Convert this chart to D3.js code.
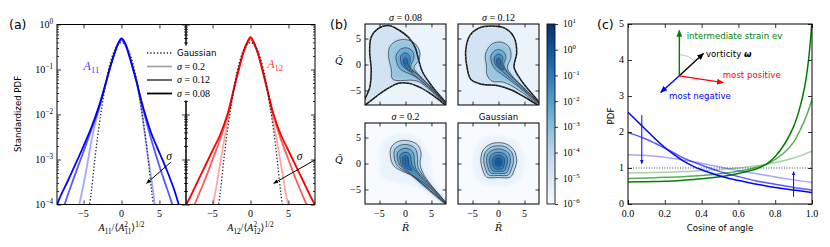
<!DOCTYPE html>
<html lang="en">
<head>
<meta charset="UTF-8">
<title>Velocity gradient statistics</title>
<script src="https://d3js.org/d3.v7.min.js"></script>
<style>
  body { margin: 0; background: #fff; }
  svg { display: block; }
</style>
</head>
<body>
<script>
// ---------- panel (a): standardized PDFs, pairs of [x, log10 PDF] ----------
const gaussianA = [[-4.5,-4.35],[-4,-3.75],[-3.5,-2.98],[-3,-2.3],[-2.5,-1.74],[-2,-1.24],[-1.5,-0.86],[-1,-0.61],[-0.5,-0.45],[0,-0.4],[0.5,-0.45],[1,-0.61],[1.5,-0.86],[2,-1.24],[2.5,-1.74],[3,-2.3],[3.5,-2.98],[4,-3.75],[4.5,-4.35]];
const a11Sigma08 = [[-8.7,-4.1],[-8,-3.8],[-7,-3.45],[-6,-3.08],[-5,-2.7],[-4,-2.3],[-3,-1.83],[-2.5,-1.55],[-2,-1.25],[-1.5,-0.95],[-1,-0.68],[-0.5,-0.44],[0,-0.31],[0.5,-0.42],[1,-0.68],[1.5,-0.97],[2,-1.28],[2.5,-1.62],[3,-1.93],[3.5,-2.2],[4,-2.45],[5,-2.85],[6,-3.25],[7,-3.7],[7.7,-4.1]];
const a11Sigma12 = [[-7.7,-4.1],[-7,-3.75],[-6,-3.28],[-5,-2.82],[-4,-2.35],[-3,-1.88],[-2.5,-1.58],[-2,-1.27],[-1.5,-0.96],[-1,-0.68],[-0.5,-0.45],[0,-0.33],[0.5,-0.44],[1,-0.69],[1.5,-0.98],[2,-1.29],[2.5,-1.64],[3,-1.98],[4,-2.6],[5,-3.15],[6,-3.65],[6.9,-4.1]];
const a11Sigma20 = [[-5.7,-4.1],[-5,-3.55],[-4.5,-3.1],[-4,-2.62],[-3.5,-2.22],[-3,-1.9],[-2.5,-1.58],[-2,-1.27],[-1.5,-0.94],[-1,-0.66],[-0.5,-0.46],[0,-0.36],[0.5,-0.46],[1,-0.66],[1.5,-0.95],[2,-1.27],[2.5,-1.75],[3,-2.35],[3.5,-2.95],[4,-3.5],[4.5,-4.15]];
const a12Sigma08 = [[-8.8,-4.1],[-8,-3.85],[-7,-3.5],[-6,-3.15],[-5,-2.8],[-4,-2.45],[-3,-1.98],[-2.5,-1.65],[-2,-1.3],[-1.5,-0.96],[-1,-0.65],[-0.5,-0.42],[0,-0.28],[0.5,-0.42],[1,-0.65],[1.5,-0.96],[2,-1.3],[2.5,-1.65],[3,-1.98],[4,-2.45],[5,-2.8],[6,-3.15],[7,-3.5],[8,-3.85],[8.8,-4.1]];
const a12Sigma12 = [[-7.7,-4.12],[-7,-3.85],[-6,-3.45],[-5,-3.0],[-4,-2.55],[-3,-2.0],[-2.5,-1.66],[-2,-1.3],[-1.5,-0.97],[-1,-0.66],[-0.5,-0.44],[0,-0.3],[0.5,-0.44],[1,-0.66],[1.5,-0.97],[2,-1.3],[2.5,-1.66],[3,-2.0],[4,-2.55],[5,-3.0],[6,-3.45],[7,-3.85],[7.7,-4.12]];
const a12Sigma20 = [[-5.1,-4.15],[-4.5,-3.6],[-4,-3.1],[-3.5,-2.6],[-3,-2.15],[-2.5,-1.7],[-2,-1.28],[-1.5,-0.94],[-1,-0.64],[-0.5,-0.45],[0,-0.33],[0.5,-0.45],[1,-0.64],[1.5,-0.94],[2,-1.28],[2.5,-1.7],[3,-2.15],[3.5,-2.6],[4,-3.1],[4.5,-3.6],[5.1,-4.15]];
const aXTicks = [-5, 0, 5];
const aLogMajor = [1e-4, 1e-3, 1e-2, 1e-1, 1];
const aLogExp = ["\u22124", "\u22123", "\u22122", "\u22121", "0"];
const sigmaNames = ["0.2", "0.12", "0.08"];

// ---------- panel (b): joint PDF of Q and R, contour outlines ----------
const qrTicks = [-5, 0, 5];
const contours08 = [
  [[-8.5,-8.3],[-6.9,-4.5],[-6.6,-1.0],[-6.9,2.5],[-6.6,5.3],[-5.3,6.9],[-3.3,7.5],[-1.2,6.6],[0.6,5.2],[1.9,3.2],[2.5,1.0],[3.3,-1.5],[5.2,-4.3],[8.6,-8.4],[5.5,-6.1],[3.0,-4.5],[0.6,-3.6],[-1.4,-3.6],[-4.0,-5.0],[-6.5,-6.8]],
  [[-2.5,-2.8],[-2.7,-1.0],[-3.2,1.2],[-3.1,3.2],[-2.0,4.4],[-0.2,4.8],[1.6,4.2],[2.7,2.6],[2.6,0.9],[1.6,-0.6],[2.7,-2.1],[5.0,-4.5],[8.6,-8.35],[4.8,-5.0],[2.6,-3.3],[0.8,-3.0],[-1.0,-3.1]],
  [[-1.6,0.2],[-1.8,1.7],[-1.0,2.9],[0.2,3.2],[1.3,2.6],[1.6,1.3],[1.1,0.0],[1.0,-0.8],[2.2,-1.8],[4.8,-4.3],[8.6,-8.3],[4.6,-4.55],[2.0,-2.4],[0.1,-1.5],[-1.0,-0.9]],
  [[-0.9,0.6],[-0.9,1.6],[-0.2,2.2],[0.7,1.8],[0.9,0.7],[0.7,-0.3],[1.9,-1.6],[4.7,-4.35],[8.6,-8.3],[4.55,-4.5],[1.6,-1.95],[0.1,-0.8],[-0.6,-0.2]],
  [[-0.4,0.3],[-0.4,0.9],[0.0,1.2],[0.4,0.9],[0.45,0.1],[0.8,-0.6],[1.5,-1.45],[0.8,-1.15],[0.1,-0.6]]
];
const levels08 = [-4.7, -3.3, -2.4, -1.4, -0.2];
const contours12 = [
  [[-6.3,2.8],[-5.5,5.6],[-3.8,7.0],[-1.5,7.4],[1.2,7.0],[3.0,5.2],[3.5,2.2],[3.0,-0.5],[4.4,-3.1],[8.6,-8.4],[5.6,-6.6],[2.5,-4.9],[0.0,-4.1],[-3.2,-3.8],[-5.3,-2.9],[-6.1,-0.3]],
  [[-2.3,-0.3],[-2.5,2.0],[-1.3,3.9],[0.5,4.3],[2.0,3.4],[2.4,1.5],[1.7,-0.6],[2.7,-2.3],[8.6,-8.35],[4.0,-5.0],[1.0,-3.4],[-1.2,-3.2],[-2.2,-2.0]],
  [[-1.3,0.3],[-1.4,1.8],[-0.4,2.8],[0.8,2.6],[1.4,1.5],[1.0,0.0],[1.7,-1.4],[4.6,-4.2],[8.6,-8.3],[4.0,-4.4],[0.7,-1.9],[-0.6,-0.9]],
  [[-0.8,0.5],[-0.7,1.5],[0.1,2.0],[0.8,1.4],[0.7,0.2],[1.4,-1.2],[4.6,-4.3],[8.6,-8.3],[4.3,-4.4],[0.5,-1.1],[-0.4,-0.3]],
  [[-0.35,0.2],[-0.35,0.9],[0.05,1.2],[0.4,0.8],[0.4,0.0],[1.0,-1.0],[0.4,-0.8],[0.0,-0.4]]
];
const levels12 = [-4.7, -3.3, -2.4, -1.4, -0.2];
const contours20 = [
  [[-5.0,0],[-4.5,4.0],[-1,5.8],[3.0,4.5],[4.8,1],[5.2,-2.5],[8.6,-8.6],[2,-4.5],[-2,-3.6],[-4.5,-2.6]],
  [[-2.8,0.8],[-2.8,3.0],[-1.5,4.2],[0.3,4.4],[2.2,3.7],[3.0,2.0],[2.8,0.0],[3.6,-2.3],[8.6,-8.6],[4.4,-4.4],[1.5,-2.4],[-0.8,-1.4],[-2.2,-0.5]],
  [[-2.1,0.8],[-2.1,2.6],[-1.0,3.5],[0.5,3.6],[1.9,2.8],[2.3,1.2],[2.4,-0.6],[3.7,-2.8],[8.6,-8.5],[4.0,-4.5],[1.2,-2.3],[-0.6,-1.2],[-1.6,-0.4]],
  [[-1.5,0.7],[-1.5,2.1],[-0.6,2.8],[0.6,2.8],[1.5,2.0],[1.7,0.6],[2.0,-1.0],[3.9,-3.3],[8.6,-8.45],[3.6,-4.4],[1.0,-2.1],[-0.4,-1.0],[-1.1,-0.3]],
  [[-1.0,0.6],[-1.0,1.6],[-0.3,2.1],[0.6,2.0],[1.0,1.2],[1.3,-0.4],[3.6,-3.3],[8.6,-8.4],[3.2,-3.8],[0.8,-1.7],[-0.3,-0.8],[-0.8,-0.2]],
  [[-0.55,0.4],[-0.5,1.2],[0.1,1.5],[0.5,1.0],[0.6,-0.1],[1.2,-1.2],[0.5,-1.1],[-0.1,-0.6],[-0.45,-0.2]]
];
const levels20 = [-5.55, -4.0, -3.0, -2.2, -1.3, -0.3];
const contoursGauss = [
  [[-5.0,0.5],[-3.6,4.2],[0,5.4],[3.6,4.2],[5.0,0.5],[4.0,-3.2],[0,-4.5],[-4.0,-3.2]],
  [[-3.4,0.5],[-3.0,2.5],[-1.6,3.7],[0.0,4.0],[1.6,3.7],[3.0,2.5],[3.5,0.5],[3.0,-1.3],[2.3,-2.6],[0.0,-2.7],[-2.3,-2.6],[-3.0,-1.3]],
  [[-2.85,0.6],[-2.5,2.2],[-1.3,3.2],[0,3.4],[1.3,3.2],[2.5,2.2],[2.9,0.6],[2.5,-1.0],[1.9,-2.2],[0,-2.3],[-1.9,-2.2],[-2.5,-1.0]],
  [[-2.3,0.6],[-2.0,1.9],[-1.0,2.6],[0,2.8],[1.0,2.6],[2.0,1.9],[2.3,0.6],[2.0,-0.8],[1.5,-1.8],[0,-1.9],[-1.5,-1.8],[-2.0,-0.8]],
  [[-1.75,0.5],[-1.5,1.5],[-0.8,2.0],[0,2.15],[0.8,2.0],[1.5,1.5],[1.75,0.5],[1.5,-0.6],[1.1,-1.4],[0,-1.5],[-1.1,-1.4],[-1.5,-0.6]],
  [[-1.2,0.4],[-1.0,1.1],[-0.5,1.5],[0,1.6],[0.5,1.5],[1.0,1.1],[1.2,0.4],[1.0,-0.4],[0.7,-1.0],[0,-1.1],[-0.7,-1.0],[-1.0,-0.4]],
  [[-0.6,0.3],[-0.5,0.8],[0,1.0],[0.5,0.8],[0.6,0.3],[0.5,-0.3],[0,-0.6],[-0.5,-0.3]]
];
const levelsGauss = [-5.55, -4.0, -3.2, -2.4, -1.6, -0.8, 0.0];
const cbarExp = ["1", "0", "\u22121", "\u22122", "\u22123", "\u22124", "\u22125", "\u22126"];

// ---------- panel (c): alignment PDFs, pairs of [cosine, PDF] ----------
const green08 = [[0,0.61],[0.1,0.62],[0.2,0.63],[0.3,0.66],[0.4,0.7],[0.5,0.76],[0.6,0.85],[0.7,0.98],[0.75,1.1],[0.8,1.32],[0.85,1.66],[0.9,2.15],[0.93,2.6],[0.96,3.25],[0.98,3.95],[0.995,4.75],[1.0,5.1]];
const green12 = [[0,0.71],[0.1,0.72],[0.2,0.74],[0.3,0.76],[0.4,0.79],[0.5,0.84],[0.6,0.91],[0.7,1.02],[0.75,1.1],[0.8,1.24],[0.85,1.43],[0.9,1.72],[0.94,2.1],[0.97,2.45],[1.0,2.9]];
const green20 = [[0,0.86],[0.1,0.87],[0.2,0.88],[0.3,0.9],[0.4,0.93],[0.5,0.96],[0.6,1.0],[0.7,1.06],[0.75,1.1],[0.8,1.15],[0.9,1.28],[1.0,1.47]];
const blue08 = [[0,2.55],[0.05,2.3],[0.1,2.05],[0.15,1.8],[0.2,1.57],[0.25,1.37],[0.3,1.2],[0.35,1.06],[0.4,0.95],[0.45,0.86],[0.5,0.78],[0.6,0.65],[0.7,0.55],[0.8,0.46],[0.9,0.39],[1.0,0.32]];
const blue12 = [[0,1.98],[0.05,1.9],[0.1,1.8],[0.15,1.68],[0.2,1.55],[0.25,1.42],[0.3,1.28],[0.4,1.08],[0.5,0.9],[0.6,0.76],[0.7,0.64],[0.8,0.55],[0.9,0.46],[1.0,0.39]];
const blue20 = [[0,1.37],[0.1,1.35],[0.2,1.3],[0.3,1.22],[0.4,1.13],[0.5,1.03],[0.6,0.93],[0.7,0.84],[0.8,0.75],[0.9,0.67],[1.0,0.6]];
const cosTicks = [0, 0.2, 0.4, 0.6, 0.8, 1.0];
const pdfTicks = [0, 1, 2, 3, 4, 5];
const alphas = [0.35, 0.65, 1];

const SERIF = "'Liberation Serif', 'DejaVu Serif', serif";
const SANS = "'DejaVu Sans', sans-serif";
const NUM = 10;   // size of the serif tick numbers

const svg = d3.select("body").append("svg").attr("width", 830).attr("height", 247).attr("font-family", SANS);
const defs = svg.append("defs");
defs.append("filter").attr("id", "soft").attr("x", "-20%").attr("y", "-20%").attr("width", "140%").attr("height", "140%")
  .append("feGaussianBlur").attr("stdDeviation", 1.4);

function tickAxis(axis, scale, vals, size, tx, ty) {
  const g = svg.append("g").attr("transform", `translate(${tx},${ty})`)
    .call(axis(scale).tickValues(vals).tickSize(size).tickSizeOuter(0).tickFormat(""));
  g.select(".domain").remove();
  g.selectAll(".tick text").remove();
  g.selectAll(".tick line").attr("stroke", "#000").attr("stroke-width", 0.8);
  return g;
}

// text with italic / sub / sup pieces
function mtext(parent, x, y, parts, o = {}) {
  const size = o.size || 9;
  const t = parent.append("text").attr("x", x).attr("y", y)
    .attr("font-family", o.family || SERIF).attr("font-size", size)
    .attr("text-anchor", o.anchor || "start").attr("fill", o.fill || "#000");
  let shift = 0;
  parts.forEach(([s, k, dx]) => {
    const target = k === "sub" ? size * 0.28 : k === "sup" ? -size * 0.42 : 0;
    const ts = t.append("tspan").text(s).attr("dy", target - shift);
    shift = target;
    if (k === "sub" || k === "sup") ts.attr("font-size", size * 0.72);
    if (k === "i") ts.attr("font-style", "italic");
    if (k === "bi") ts.attr("font-style", "italic").attr("font-weight", "bold");
    if (k === "sans") ts.attr("font-family", SANS);
    if (dx) ts.attr("dx", dx);
  });
  return t;
}
const num = v => v < 0 ? "\u2212" + Math.abs(v) : String(v);

function marker(id, color, len, wid) {
  defs.append("marker").attr("id", id).attr("viewBox", `0 0 ${len} ${wid}`)
    .attr("refX", len * 0.9).attr("refY", wid / 2).attr("markerWidth", len).attr("markerHeight", wid)
    .attr("markerUnits", "userSpaceOnUse").attr("orient", "auto")
    .append("path").attr("d", `M0,0L${len},${wid / 2}L0,${wid}z`).attr("fill", color);
}
marker("hk", "#000", 5, 4);
marker("hbThin", "#0000ff", 4, 3.4);
marker("hG", "#008000", 7, 6);
marker("hK", "#000", 7, 6);
marker("hR", "#ff0000", 7, 6);
marker("hB", "#0000ff", 7, 6);

// ======================= panel (a) =======================
const aTop = 24.5, aBot = 204.5;
const ya = d3.scaleLog().domain([1e-4, 1]).range([aBot, aTop]);
const aMinor = [];
[1e-4, 1e-3, 1e-2, 1e-1].forEach(d => { for (let k = 2; k < 10; k++) aMinor.push(d * k); });

const aPanels = [
  { x0: 57, x1: 186, curves: [a11Sigma20, a11Sigma12, a11Sigma08], color: "#0000ff", sub: "11",
    lab: [-5.0, 0.098], labFill: "#3c3cff", arrow: [[6.5, 8.7e-4], [3.3, 2.95e-4]], sig: [5.9, 1.0e-3] },
  { x0: 186, x1: 315, curves: [a12Sigma20, a12Sigma12, a12Sigma08], color: "#ff0000", sub: "12",
    lab: [2.2, 0.108], labFill: "#ff3c3c", arrow: [[8.5, 9.8e-4], [3.05, 2.95e-4]], sig: [6.1, 1.0e-3] }
];

aPanels.forEach((p, pi) => {
  const xa = d3.scaleLinear().domain([-8.5, 8.5]).range([p.x0, p.x1]);
  const line = d3.line().x(d => xa(d[0])).y(d => ya(Math.pow(10, d[1]))).curve(d3.curveCatmullRom);
  defs.append("clipPath").attr("id", "clipA" + pi).append("rect")
    .attr("x", p.x0).attr("y", aTop).attr("width", p.x1 - p.x0).attr("height", aBot - aTop);
  const g = svg.append("g").attr("clip-path", `url(#clipA${pi})`);
  p.curves.forEach((c, i) => {
    g.append("path").attr("d", line(c)).attr("fill", "none").attr("stroke", p.color)
      .attr("stroke-opacity", alphas[i]).attr("stroke-width", 1.8);
  });
  g.append("path").attr("d", line(gaussianA)).attr("fill", "none").attr("stroke", "#222")
    .attr("stroke-width", 1.3).attr("stroke-dasharray", "1.3 2");

  tickAxis(d3.axisBottom, xa, aXTicks, -4, 0, aBot);
  tickAxis(d3.axisTop, xa, aXTicks, -4, 0, aTop);
  tickAxis(d3.axisLeft, ya, aLogMajor, -4, p.x0, 0);
  tickAxis(d3.axisLeft, ya, aMinor, -2, p.x0, 0);
  tickAxis(d3.axisRight, ya, aLogMajor, -4, p.x1, 0);
  tickAxis(d3.axisRight, ya, aMinor, -2, p.x1, 0);

  aXTicks.forEach(v => svg.append("text").attr("x", xa(v)).attr("y", 216.5).attr("text-anchor", "middle")
    .attr("font-family", SERIF).attr("font-size", NUM).text(num(v)));

  mtext(svg, xa(p.lab[0]), ya(p.lab[1]), [["A", "i"], [p.sub, "sub"]], { size: 12, fill: p.labFill });

  svg.append("line").attr("x1", xa(p.arrow[0][0])).attr("y1", ya(p.arrow[0][1]))
    .attr("x2", xa(p.arrow[1][0])).attr("y2", ya(p.arrow[1][1]))
    .attr("stroke", "#000").attr("stroke-width", 1).attr("marker-end", "url(#hk)");
  mtext(svg, xa(p.sig[0]), ya(p.sig[1]), [["\u03c3", "i"]], { size: 11.5 });

  mtext(svg, (p.x0 + p.x1) / 2, 231, [["A", "i"], [p.sub, "sub"], ["/\u27e8", "n"], ["A", "i"], [p.sub, "sub"],
    ["2", "sup", -7.2], ["\u27e9", "n", 3.6], ["1/2", "sup"]], { size: 10, anchor: "middle" });
});

[[57, 186], [186, 315]].forEach(([x0, x1]) => svg.append("rect").attr("x", x0).attr("y", aTop)
  .attr("width", x1 - x0).attr("height", aBot - aTop).attr("fill", "none").attr("stroke", "#000").attr("stroke-width", 1));

aLogMajor.forEach((v, i) => mtext(svg, 53, ya(v) + 3.4, [["10", "n"], [aLogExp[i], "sup"]], { size: NUM, anchor: "end" }));
svg.append("text").attr("transform", "translate(21,114) rotate(-90)").attr("text-anchor", "middle")
  .attr("font-size", 8.6).text("Standardized PDF");

// legend
const leg = svg.append("g");
leg.append("rect").attr("x", 142).attr("y", 45.5).attr("width", 82).attr("height", 55).attr("fill", "#fff");
const legY = [53, 66.5, 80, 93.5];
leg.append("line").attr("x1", 147).attr("x2", 172).attr("y1", legY[0]).attr("y2", legY[0])
  .attr("stroke", "#222").attr("stroke-width", 1.3).attr("stroke-dasharray", "1.3 2");
leg.append("text").attr("x", 177).attr("y", legY[0] + 3).attr("font-size", 8.6).text("Gaussian");
sigmaNames.forEach((s, i) => {
  leg.append("line").attr("x1", 147).attr("x2", 172).attr("y1", legY[i + 1]).attr("y2", legY[i + 1])
    .attr("stroke", "#000").attr("stroke-opacity", alphas[i]).attr("stroke-width", 1.8);
  mtext(leg, 177, legY[i + 1] + 3.4, [["\u03c3", "i"], [" = " + s, "n"]], { size: 10 });
});

svg.append("text").attr("x", 9).attr("y", 29).attr("font-size", 12.5).text("(a)");

// ======================= panel (b) =======================
const cmap = d3.scaleSequentialLog(d3.interpolateBlues).domain([1e-6, 10]);
const bSize = 81;
const bPanels = [
  { x0: 365, y0: 24, cs: contours08, lv: levels08, thick: true, halo: false, title: "0.08", showQ: true, showR: false },
  { x0: 458, y0: 24, cs: contours12, lv: levels12, thick: true, halo: false, title: "0.12", showQ: false, showR: false },
  { x0: 365, y0: 123, cs: contours20, lv: levels20, thick: false, halo: true, title: "0.2", showQ: true, showR: true },
  { x0: 458, y0: 123, cs: contoursGauss, lv: levelsGauss, thick: false, halo: true, title: null, showQ: false, showR: true }
];

bPanels.forEach((p, pi) => {
  const xs = d3.scaleLinear().domain([-7.8, 7.8]).range([p.x0, p.x0 + bSize]);
  const ys = d3.scaleLinear().domain([-7.8, 7.8]).range([p.y0 + bSize, p.y0]);
  const line = d3.line().x(d => xs(d[0])).y(d => ys(d[1])).curve(d3.curveCatmullRomClosed.alpha(0.5));
  defs.append("clipPath").attr("id", "clipB" + pi).append("rect")
    .attr("x", p.x0).attr("y", p.y0).attr("width", bSize).attr("height", bSize);
  const g = svg.append("g").attr("clip-path", `url(#clipB${pi})`);
  const fills = g.append("g").attr("filter", "url(#soft)");
  fills.append("rect").attr("x", p.x0 - 10).attr("y", p.y0 - 10).attr("width", bSize + 20).attr("height", bSize + 20)
    .attr("fill", cmap(Math.pow(10, p.halo ? -6 : -5.6)));
  p.cs.forEach((c, i) => fills.append("path").attr("d", line(c)).attr("fill", cmap(Math.pow(10, p.lv[i]))));
  p.cs.forEach((c, i) => {
    if (p.halo && i === 0) return;
    if (p.thick && i === 0) {
      g.append("path").attr("d", line(c)).attr("fill", "none").attr("stroke", "#111").attr("stroke-width", 1.5);
      g.append("path").attr("d", line(c)).attr("fill", "none").attr("stroke", "#999").attr("stroke-width", 0.6)
        .attr("stroke-dasharray", "1 2.5");
    } else {
      g.append("path").attr("d", line(c)).attr("fill", "none").attr("stroke", "#37434f").attr("stroke-width", 0.8);
    }
  });
  svg.append("rect").attr("x", p.x0).attr("y", p.y0).attr("width", bSize).attr("height", bSize)
    .attr("fill", "none").attr("stroke", "#111").attr("stroke-width", 1.1);
  tickAxis(d3.axisBottom, xs, qrTicks, -3.5, 0, p.y0 + bSize);
  tickAxis(d3.axisTop, xs, qrTicks, -3.5, 0, p.y0);
  tickAxis(d3.axisLeft, ys, qrTicks, -3.5, p.x0, 0);
  tickAxis(d3.axisRight, ys, qrTicks, -3.5, p.x0 + bSize, 0);

  if (p.title) mtext(svg, p.x0 + bSize / 2, p.y0 - 3.5, [["\u03c3", "i"], [" = " + p.title, "n"]], { size: 10, anchor: "middle" });
  else svg.append("text").attr("x", p.x0 + bSize / 2).attr("y", p.y0 - 3.5).attr("text-anchor", "middle")
    .attr("font-size", 8.6).text("Gaussian");
  if (p.showQ) {
    qrTicks.forEach(v => svg.append("text").attr("x", p.x0 - 4).attr("y", ys(v) + 3.4).attr("text-anchor", "end")
      .attr("font-family", SERIF).attr("font-size", NUM).text(num(v)));
    svg.append("text").attr("x", p.x0 - 26).attr("y", ys(0) - 1).attr("text-anchor", "middle")
      .attr("font-family", "'DejaVu Serif', serif").attr("font-style", "italic").attr("font-size", 9.5).text("Q\u0302");
  }
  if (p.showR) {
    qrTicks.forEach(v => svg.append("text").attr("x", xs(v)).attr("y", p.y0 + bSize + 12.5).attr("text-anchor", "middle")
      .attr("font-family", SERIF).attr("font-size", NUM).text(num(v)));
    svg.append("text").attr("x", xs(0)).attr("y", p.y0 + bSize + 27).attr("text-anchor", "middle")
      .attr("font-family", "'DejaVu Serif', serif").attr("font-style", "italic").attr("font-size", 9.5).text("R\u0302");
  }
});

// colorbar
const cb = { x: 547, w: 8, y0: 24, y1: 204 };
const cbScale = d3.scaleLog().domain([1e-6, 10]).range([cb.y1, cb.y0]);
const grad = defs.append("linearGradient").attr("id", "cbGrad").attr("x1", 0).attr("y1", 1).attr("x2", 0).attr("y2", 0);
d3.range(0, 1.0001, 0.05).forEach(t => grad.append("stop").attr("offset", t).attr("stop-color", d3.interpolateBlues(t)));
svg.append("rect").attr("x", cb.x).attr("y", cb.y0).attr("width", cb.w).attr("height", cb.y1 - cb.y0)
  .attr("fill", "url(#cbGrad)").attr("stroke", "#111").attr("stroke-width", 0.9);
const cbVals = cbarExp.map(e => Math.pow(10, +e.replace("\u2212", "-")));
tickAxis(d3.axisRight, cbScale, cbVals, 3, cb.x + cb.w, 0);
cbVals.forEach((v, i) => mtext(svg, 563, cbScale(v) + 3.4, [["10", "n"], [cbarExp[i], "sup"]], { size: 9.5 }));

svg.append("text").attr("x", 330).attr("y", 29).attr("font-size", 12.5).text("(b)");

// ======================= panel (c) =======================
const xc = d3.scaleLinear().domain([0, 1]).range([628, 812]);
const yc = d3.scaleLinear().domain([0, 5]).range([204, 24]);
const lineC = d3.line().x(d => xc(d[0])).y(d => yc(d[1])).curve(d3.curveCatmullRom);
defs.append("clipPath").attr("id", "clipC").append("rect").attr("x", 628).attr("y", 24).attr("width", 184).attr("height", 180);
const gc = svg.append("g").attr("clip-path", "url(#clipC)");
gc.append("line").attr("x1", xc(0)).attr("x2", xc(1)).attr("y1", yc(1)).attr("y2", yc(1))
  .attr("stroke", "#333").attr("stroke-width", 0.9).attr("stroke-dasharray", "1 1.6");
[green20, green12, green08].forEach((c, i) => gc.append("path").attr("d", lineC(c)).attr("fill", "none")
  .attr("stroke", "#008000").attr("stroke-opacity", alphas[i]).attr("stroke-width", 1.5));
[blue20, blue12, blue08].forEach((c, i) => gc.append("path").attr("d", lineC(c)).attr("fill", "none")
  .attr("stroke", "#0000ff").attr("stroke-opacity", alphas[i]).attr("stroke-width", 1.5));

gc.append("line").attr("x1", xc(0.075)).attr("x2", xc(0.075)).attr("y1", yc(2.47)).attr("y2", yc(1.12))
  .attr("stroke", "#0000ff").attr("stroke-width", 1).attr("marker-end", "url(#hbThin)");
gc.append("line").attr("x1", xc(0.9)).attr("x2", xc(0.9)).attr("y1", yc(0.2)).attr("y2", yc(0.9))
  .attr("stroke", "#0000ff").attr("stroke-width", 1).attr("marker-end", "url(#hbThin)");

// eigenframe sketch
const o = [0.279, 3.56];
const frame = [
  { to: [0.279, 4.82], m: "hG", c: "#008000" },
  { to: [0.41, 4.18], m: "hK", c: "#000" },
  { to: [0.518, 3.37], m: "hR", c: "#ff0000" },
  { to: [0.178, 3.1], m: "hB", c: "#0000ff" }
];
const ox = xc(o[0]), oy = yc(o[1]);
const ang = Math.atan2(yc(4.18) - oy, xc(0.41) - ox);
const arc = d3.path(); arc.arc(ox, oy, 21, -Math.PI / 2, ang);
svg.append("path").attr("d", arc.toString()).attr("fill", "none").attr("stroke", "#aaa").attr("stroke-width", 0.7);
frame.forEach(f => svg.append("line").attr("x1", ox).attr("y1", oy).attr("x2", xc(f.to[0])).attr("y2", yc(f.to[1]))
  .attr("stroke", f.c).attr("stroke-width", 1.4).attr("marker-end", `url(#${f.m})`));
svg.append("text").attr("x", xc(0.319)).attr("y", yc(4.58)).attr("font-size", 8.6).attr("fill", "#008000").text("intermediate strain ev");
mtext(svg, xc(0.424), yc(4.09), [["vorticity ", "sans"], ["\u03c9", "bi"]], { size: 8.6, family: SANS });
svg.append("text").attr("x", xc(0.515)).attr("y", yc(3.49)).attr("font-size", 8.6).attr("fill", "#ff0000").text("most positive");
svg.append("text").attr("x", xc(0.223)).attr("y", yc(2.92)).attr("font-size", 8.6).attr("fill", "#0000ff").text("most negative");

svg.append("rect").attr("x", 628).attr("y", 24).attr("width", 184).attr("height", 180)
  .attr("fill", "none").attr("stroke", "#000").attr("stroke-width", 1);
tickAxis(d3.axisBottom, xc, cosTicks, -4, 0, 204);
tickAxis(d3.axisTop, xc, cosTicks, -4, 0, 24);
tickAxis(d3.axisLeft, yc, pdfTicks, -4, 628, 0);
tickAxis(d3.axisRight, yc, pdfTicks, -4, 812, 0);
cosTicks.forEach(v => svg.append("text").attr("x", xc(v)).attr("y", 216.5).attr("text-anchor", "middle")
  .attr("font-family", SERIF).attr("font-size", NUM).text(v.toFixed(1)));
pdfTicks.forEach(v => svg.append("text").attr("x", 624).attr("y", yc(v) + 3.4).attr("text-anchor", "end")
  .attr("font-family", SERIF).attr("font-size", NUM).text(v));
svg.append("text").attr("x", 720).attr("y", 231).attr("text-anchor", "middle").attr("font-size", 8.6).text("Cosine of angle");
svg.append("text").attr("transform", "translate(614,116) rotate(-90)").attr("text-anchor", "middle")
  .attr("font-size", 8.6).text("PDF");
svg.append("text").attr("x", 597).attr("y", 29).attr("font-size", 12.5).text("(c)");
</script>
</body>
</html>
